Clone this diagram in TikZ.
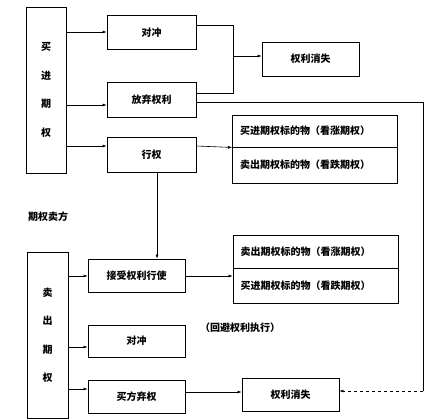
\documentclass[tikz,border=0pt]{standalone}
\usepackage{fontspec}
\setmainfont{Noto Sans CJK SC}
\usetikzlibrary{arrows.meta}
\begin{document}
\begin{tikzpicture}[x=1pt,y=-1pt,
  font=\fontsize{10}{12}\selectfont\bfseries,
  box/.style={draw,line width=0.9pt,rectangle,inner sep=0pt,anchor=center},
  side/.style={box,align=center,font=\fontsize{10}{28.5}\selectfont\bfseries},
  conn/.style={line width=0.6pt},
  arr/.style={conn,-{Latex[length=4pt,width=3pt]}}]
\useasboundingbox (0,0) rectangle (434,420);
% buyer side
\node[side,minimum width=40pt,minimum height=166pt] (buy) at (46,90) {买\\进\\期\\权};
\node[box,minimum width=89pt,minimum height=34pt] (hedgeA) at (151.5,32.5) {对冲};
\node[box,minimum width=89pt,minimum height=35pt] (waive) at (151.5,99.5) {放弃权利};
\node[box,minimum width=89pt,minimum height=35pt] (exer) at (151.5,154.5) {行权};
\node[box,minimum width=97pt,minimum height=34pt] (lostA) at (310.5,59) {权利消失};
\node[box,minimum width=165pt,minimum height=32pt,align=left,text width=150pt] (ubA) at (315,131) {买进期权标的物（看涨期权）};
\node[box,minimum width=165pt,minimum height=36pt,align=left,text width=150pt] (ubB) at (315,165) {卖出期权标的物（看跌期权）};
% seller side
\node (seller) at (48,217) {期权卖方};
\node[side,minimum width=41pt,minimum height=166pt] (sell) at (47.5,335) {卖\\出\\期\\权};
\node[box,minimum width=97pt,minimum height=33pt] (accept) at (136.5,275.5) {接受权利行使};
\node[box,minimum width=97pt,minimum height=32pt] (hedgeB) at (136.5,341) {对冲};
\node[box,minimum width=97pt,minimum height=33pt] (bwaive) at (136.5,396.5) {买方弃权};
\node[box,minimum width=165pt,minimum height=33pt,align=left,text width=150pt] (lbA) at (315.5,251.5) {卖出期权标的物（看涨期权）};
\node[box,minimum width=165pt,minimum height=35pt,align=left,text width=150pt] (lbB) at (315.5,285.5) {买进期权标的物（看跌期权）};
\node (avoid) at (240,328) {（回避权利执行）};
\node[box,minimum width=97pt,minimum height=33pt] (lostB) at (290.5,394.5) {权利消失};
% coordinates
\coordinate (jA) at (233,56);
\coordinate (cR) at (423,102);
% buyer connectors
\draw[arr] (buy.east |- 0,32) -- (hedgeA.west |- 0,32);
\draw[arr] (buy.east |- 0,105) -- (waive.west |- 0,105);
\draw[arr] (buy.east |- 0,146) -- (exer.west |- 0,146);
\draw[conn] (hedgeA.east |- 0,25) -| (jA |- 0,93) -- (waive.east |- 0,93);
\draw[arr] (jA) -- (lostA.west |- jA);
\draw[arr] (exer.east |- 0,146) -- (ubA.south west);
\draw[conn] (waive.east |- 0,102) -- (cR) -- (cR |- 0,391);
\draw[arr,dashed] (cR |- 0,391) -- (lostB.east |- 0,391);
\draw[arr] ([xshift=5.5pt]exer.south) -- ([xshift=5.5pt]exer.south |- accept.north);
% seller connectors
\draw[arr] (sell.east |- 0,276) -- (accept.west |- 0,276);
\draw[arr] (sell.east |- 0,347) -- (hedgeB.west |- 0,347);
\draw[arr] (sell.east |- 0,389) -- (bwaive.west |- 0,389);
\draw[arr] (accept.east |- 0,276) -- (lbB.west |- 0,276);
\draw[arr] (bwaive.east |- 0,392) -- (lostB.west |- 0,392);
\end{tikzpicture}
\end{document}
